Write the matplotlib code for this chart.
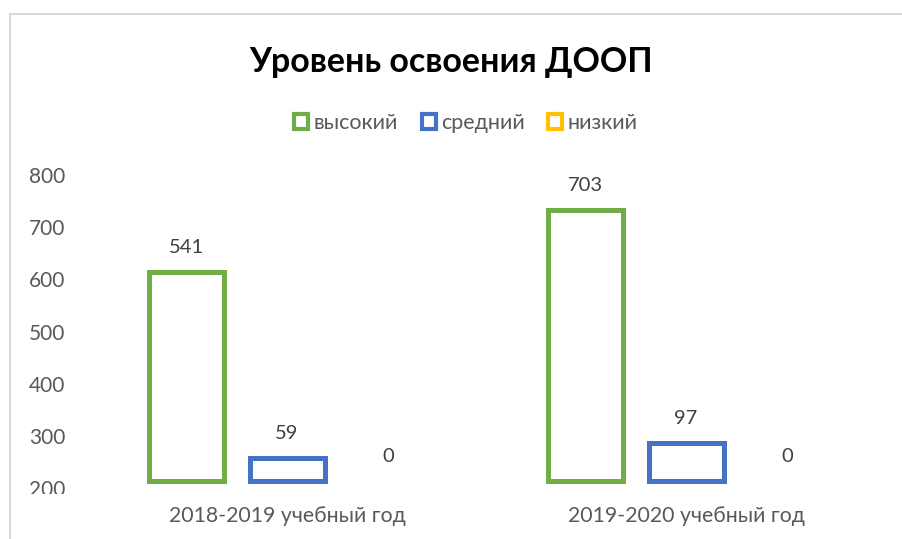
import matplotlib
matplotlib.use("Agg")
import matplotlib.pyplot as plt
from matplotlib.patches import Patch, Rectangle
import numpy as np

# ---- data ----
categories = ["2018-2019 учебный год", "2019-2020 учебный год"]
series_names = ["высокий", "средний", "низкий"]
vysokiy = [541, 703]
sredniy = [59, 97]
nizkiy = [0, 0]
tick_labels = [200, 300, 400, 500, 600, 700, 800]

series_values = [vysokiy, sredniy, nizkiy]
colors = ["#70AD47", "#4472C4", "#FFC000"]

plt.rcParams['font.family'] = ['Lato', 'DejaVu Sans']

W, H = 902, 539
fig = plt.figure(figsize=(W / 100, H / 100), dpi=100)

def fx(x):
    return x / W

def fy(y):
    return 1 - y / H

# light gray frame
fig.patches.append(Rectangle((fx(10), fy(545)), fx(900), fy(14) - fy(545),
                             transform=fig.transFigure, fill=False,
                             edgecolor="#D9D9D9", linewidth=1.5))

ax_left, ax_right, ax_top, ax_bottom = 75, 890, 165, 495
ax = fig.add_axes([fx(ax_left), fy(ax_bottom), fx(ax_right - ax_left), fy(ax_top) - fy(ax_bottom)])

px_per_unit_y = 0.385
base_px = 480.5
ax.set_ylim((base_px - ax_bottom) / px_per_unit_y, (base_px - ax_top) / px_per_unit_y)

px_per_cat = 399.0
c0_px = 287.0
ax.set_xlim((ax_left - c0_px) / px_per_cat, (ax_right - c0_px) / px_per_cat)

slot = 101.0 / px_per_cat
width = 75.0 / px_per_cat
x = np.arange(len(categories))

for i, (vals, col) in enumerate(zip(series_values, colors)):
    pos = x + (i - 1) * slot
    lws = [3.6 if v > 0 else 0 for v in vals]
    ax.bar(pos, vals, width=width, facecolor="white", edgecolor=col,
           linewidth=lws, joinstyle="miter", label=series_names[i])
    for xp, v in zip(pos, vals):
        ax.annotate(str(v), (xp, v), xytext=(0, 17.5), textcoords="offset points",
                    ha="center", va="center", fontsize=14.5, color="#404040")

# y tick labels (as displayed in the reference)
tick_start = (base_px - 488) / px_per_unit_y
tick_step = ((base_px - 175) / px_per_unit_y - tick_start) / (len(tick_labels) - 1)
ax.set_yticks([tick_start + k * tick_step for k in range(len(tick_labels))])
ax.set_yticklabels([str(t) for t in tick_labels])
ax.tick_params(axis="y", length=0, pad=7, labelsize=15, labelcolor="#595959")

ax.set_xticks(x)
ax.set_xticklabels(categories)
ax.tick_params(axis="x", length=0, pad=8, labelsize=15.3, labelcolor="#595959")

for s in ax.spines.values():
    s.set_visible(False)

# clip the bottom tick label like the reference
clip = Rectangle((0, fy(494)), 1, 1, transform=fig.transFigure, visible=False)
fig.patches.append(clip)
for lab in ax.get_yticklabels():
    lab.set_clip_path(clip)

fig.text(fx(451), fy(62), "Уровень освоения ДООП", ha="center", va="center",
         fontsize=24.5, fontweight="bold", color="black")

handles = [Patch(facecolor="white", edgecolor=c, linewidth=3) for c in colors]
fig.legend(handles, series_names, loc="center", bbox_to_anchor=(fx(466), fy(123)),
           ncol=3, frameon=False, fontsize=15.5, handlelength=0.65, handleheight=0.65,
           handletextpad=0.25, columnspacing=1.1, labelcolor="#595959")

fig.savefig("out.png", dpi=100)
